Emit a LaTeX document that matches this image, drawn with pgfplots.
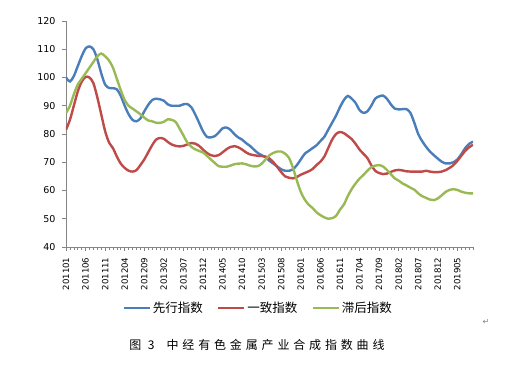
\documentclass[border=0pt]{standalone}
\usepackage{fontspec}
\usepackage{pgfplots}
\usepackage{pgfplotstable}
\pgfplotsset{compat=1.18}
\setmainfont{DejaVu Sans}
\newfontfamily\cjk{Noto Sans CJK SC}
\newfontfamily\cjkcap[LetterSpace=32]{Noto Sans CJK SC}
\definecolor{cblue}{HTML}{4A7EBB}
\definecolor{cred}{HTML}{BE4B48}
\definecolor{cgreen}{HTML}{98B954}
\definecolor{axgray}{HTML}{868686}

\pgfplotstableread{
i lead coin lag
0 100.0 81.5 87.4
1 98.6 85.0 90.0
2 100.5 90.0 94.0
3 104.0 95.0 97.5
4 107.5 98.5 99.5
5 110.3 100.2 101.5
6 111.0 100.0 103.5
7 110.0 98.0 105.5
8 106.5 93.0 107.5
9 101.5 87.0 108.5
10 97.5 81.0 107.5
11 96.3 77.0 106.0
12 96.2 75.0 103.5
13 95.8 72.0 99.5
14 93.5 69.5 95.5
15 90.0 68.0 92.0
16 87.0 67.0 90.0
17 85.0 66.7 89.0
18 84.5 67.2 88.0
19 85.5 69.0 87.0
20 88.0 71.0 85.8
21 90.3 73.5 84.8
22 92.0 76.0 84.5
23 92.5 78.0 84.0
24 92.3 78.6 83.9
25 91.8 78.3 84.3
26 90.5 77.2 85.2
27 90.0 76.3 85.0
28 90.0 75.8 84.3
29 90.0 75.6 82.0
30 90.5 75.8 79.5
31 90.6 76.3 77.0
32 89.5 76.8 75.5
33 87.0 76.6 74.6
34 84.0 75.8 74.0
35 81.0 74.5 73.5
36 79.0 73.3 72.3
37 78.8 72.5 71.0
38 79.2 72.2 69.8
39 80.5 72.5 68.6
40 82.0 73.5 68.4
41 82.3 74.6 68.4
42 81.5 75.4 68.8
43 80.0 75.7 69.3
44 78.8 75.3 69.5
45 78.0 74.5 69.6
46 76.8 73.5 69.3
47 75.8 72.8 68.8
48 74.5 72.5 68.5
49 73.3 72.3 68.6
50 72.5 72.2 69.5
51 71.8 72.0 71.0
52 70.5 71.3 72.5
53 69.5 70.0 73.3
54 68.5 68.3 73.8
55 67.5 66.5 73.8
56 67.0 65.0 73.0
57 67.0 64.5 71.5
58 67.5 64.3 68.0
59 69.0 64.8 63.5
60 71.0 65.6 59.5
61 73.0 66.2 56.8
62 74.0 66.8 55.0
63 75.0 67.6 53.8
64 76.0 69.0 52.3
65 77.5 70.2 51.3
66 79.0 72.0 50.5
67 81.5 75.0 50.0
68 84.0 78.0 50.2
69 86.5 80.0 51.0
70 89.5 80.7 53.2
71 92.0 80.3 55.0
72 93.5 79.3 58.0
73 92.5 78.2 60.5
74 91.0 76.5 62.5
75 88.5 74.5 64.2
76 87.5 73.0 65.5
77 88.0 71.5 67.0
78 90.0 69.0 68.2
79 92.5 67.0 68.8
80 93.3 66.2 69.0
81 93.6 65.8 68.5
82 92.5 66.0 67.3
83 90.5 66.6 65.8
84 89.0 67.1 64.3
85 88.7 67.3 63.5
86 88.8 67.1 62.5
87 88.8 66.8 61.8
88 87.5 66.7 61.0
89 84.0 66.7 60.3
90 80.0 66.7 59.0
91 77.5 66.7 58.0
92 75.5 67.0 57.4
93 73.8 66.7 56.8
94 72.5 66.5 56.6
95 71.3 66.5 57.2
96 70.2 66.7 58.3
97 69.6 67.2 59.5
98 69.6 68.0 60.2
99 70.0 69.0 60.5
100 71.0 70.5 60.2
101 72.8 72.3 59.6
102 75.0 74.0 59.2
103 76.5 75.3 59.0
104 77.3 76.2 59.0
}\datatable

\begin{document}
\begin{tikzpicture}[x=1pt,y=1pt]
\path[use as bounding box] (0,0) rectangle (519,-370);
\begin{axis}[
  at={(66pt,-247pt)}, anchor=south west,
  scale only axis, width=407pt, height=226pt,
  xmin=0, xmax=104, ymin=40, ymax=120,
  axis x line=bottom, axis y line=left,
  axis line style={-, draw=axgray, line width=0.8pt},
  tick style={draw=axgray, line width=0.6pt},
  tick align=outside,
  major tick length=4pt, minor tick length=3pt,
  ytick={40,50,...,120},
  xtick={0,5,...,100},
  minor xtick={0,1,...,104},
  xticklabels={201101,201106,201111,201204,201209,201302,201307,201312,201405,201410,201503,201508,201601,201606,201611,201704,201709,201802,201807,201812,201905},
  xticklabel style={rotate=90, anchor=east, font=\fontsize{8.6}{9}\selectfont},
  yticklabel style={font=\fontsize{9.5}{10}\selectfont},
  xticklabel shift=3pt,
  yticklabel shift=3pt,
  /pgf/number format/assume math mode=true,
  legend columns=3,
  legend style={draw=none, fill=none, at={(0.472,-0.27)}, anchor=center,
    font=\cjk\fontsize{12.5}{14}\selectfont,
    /tikz/every even column/.append style={column sep=12pt},
    inner sep=0pt},
  legend image code/.code={\draw[#1, line width=2.5pt] (0pt,0pt) -- (26pt,0pt);},
  every axis plot/.append style={line width=2.4pt, smooth, tension=0.5},
]
\addplot[cblue] table[x=i, y=lead] {\datatable};
\addplot[cred] table[x=i, y=coin] {\datatable};
\addplot[cgreen] table[x=i, y=lag] {\datatable};
\legend{先行指数,一致指数,滞后指数}
\end{axis}
\node[anchor=center, font=\cjkcap\fontsize{12}{14}\selectfont] at (257,-345) {图 3\hspace{12pt}中经有色金属产业合成指数曲线};
\node[anchor=center, font=\fontsize{8}{9}\selectfont, text=gray] at (486,-322) {↵};
\end{tikzpicture}
\end{document}
